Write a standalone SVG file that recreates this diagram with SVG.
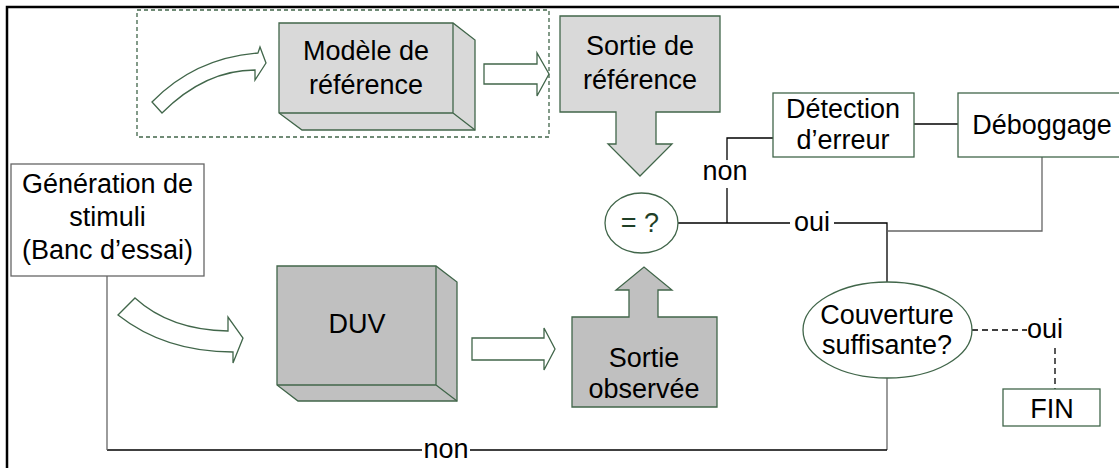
<svg xmlns="http://www.w3.org/2000/svg" width="1119" height="468" viewBox="0 0 1119 468">
<style>
text{font-family:"Liberation Sans",Arial,sans-serif;font-size:27px;fill:#000;text-anchor:middle}
.g{stroke:#41664a;stroke-width:1.3;stroke-linejoin:miter}
.light{fill:#d9d9d9}
.dark{fill:#c0c0c0}
.w{fill:#fff}
.ln{fill:none;stroke:#000;stroke-width:1.3}
.lg{fill:none;stroke:#666;stroke-width:1.3}
.ds{fill:none;stroke:#000;stroke-width:1.3;stroke-dasharray:6 4}
</style>
<rect x="0" y="0" width="1119" height="468" fill="#fff"/>
<path d="M7,468 V7 H1119" fill="none" stroke="#000" stroke-width="2.5"/>
<g id="reference-group">
<rect x="137" y="10" width="412" height="127" fill="none" stroke="#41664a" stroke-width="1.3" stroke-dasharray="4 3"/>
</g>
<g id="connectors">
<path class="ln" d="M678,223 H887 V282"/>
<path class="lg" d="M1042,157 V231 H888"/>
<path class="ln" d="M727,188 V223"/>
<path class="ln" d="M727,164 V138 H773"/>
<path class="ln" d="M914,124 H958"/>
<path class="lg" d="M887,378 V450"/>
<path class="ln" d="M887,450 H107"/>
<path class="lg" d="M107,450 V276"/>
<path class="ds" d="M972,330 H1027"/>
<path class="ds" d="M1055,348 V389"/>
<rect x="790" y="212" width="44" height="22" fill="#fff"/>
<text x="812" y="231">oui</text>
<rect x="703" y="160" width="46" height="26" fill="#fff"/>
<text x="725" y="180">non</text>
<rect x="422" y="440" width="48" height="20" fill="#fff"/>
<text x="446" y="458">non</text>
<text x="1045" y="338">oui</text>
</g>
<g id="arrow-top-curved">
<path class="g w" d="M152,102 Q195,58 258,53 L260,47 L266,63 L255,80 L255,70 Q205,70 162,113 Z"/>
</g>
<g id="arrow-bottom-curved">
<path class="g w" d="M135,298 Q170,330 228,331 L228,317 L243,338 L233,363 L233,352 Q165,352 118,315 Z"/>
</g>
<g id="arrow-modele-sortie">
<path class="g w" d="M484,64 H537 V53 L549,74 L537,96 V84 H484 Z"/>
</g>
<g id="arrow-duv-sortie">
<path class="g w" d="M472,338 H544 V328 L555,349 L544,370 V360 H472 Z"/>
</g>
<g id="modele">
<path class="g light" d="M279,23 H453 L475,40 V130 H302 L279,113 Z"/>
<path class="g" fill="none" d="M279,113 H453 V23 M453,113 L475,130"/>
<text x="366" y="60">Modèle de</text>
<text x="366" y="94">référence</text>
</g>
<g id="sortie-reference">
<path class="g light" d="M560,16 H720 V112 H656 V144 H672 L640,176 L608,144 H616 V112 H560 Z"/>
<text x="640" y="55">Sortie de</text>
<text x="640" y="89">référence</text>
</g>
<g id="compare">
<ellipse class="g w" cx="641.5" cy="223" rx="36.5" ry="30"/>
<text x="640" y="232" style="fill:#1f3f27">= ?</text>
</g>
<g id="detection">
<rect class="g w" x="773" y="93" width="141" height="64"/>
<text x="843" y="118">Détection</text>
<text x="843" y="149">d’erreur</text>
</g>
<g id="debogage">
<rect class="g w" x="958" y="93" width="170" height="64"/>
<text x="1042" y="134">Déboggage</text>
</g>
<g id="generation">
<rect x="11" y="164" width="193" height="112" fill="#fff" stroke="#666" stroke-width="1.3"/>
<text x="107.5" y="193">Génération de</text>
<text x="107.5" y="226">stimuli</text>
<text x="107.5" y="259">(Banc d’essai)</text>
</g>
<g id="duv">
<path class="g dark" d="M277,266 H436 L457,282 V401 H298 L277,385 Z"/>
<path class="g" fill="none" d="M277,385 H436 V266 M436,385 L457,401"/>
<text x="357" y="333">DUV</text>
</g>
<g id="sortie-observee">
<path class="g dark" d="M572,317 H629 V290 H616 L644,267 L672,290 H658 V317 H717 V407 H572 Z"/>
<text x="644" y="367">Sortie</text>
<text x="644" y="398">observée</text>
</g>
<g id="couverture">
<ellipse class="g w" cx="887.5" cy="330" rx="84.5" ry="48"/>
<text x="887" y="324">Couverture</text>
<text x="887" y="354">suffisante?</text>
</g>
<g id="fin">
<rect class="g w" x="1003" y="389" width="97" height="37"/>
<text x="1052" y="418">FIN</text>
</g>
</svg>
